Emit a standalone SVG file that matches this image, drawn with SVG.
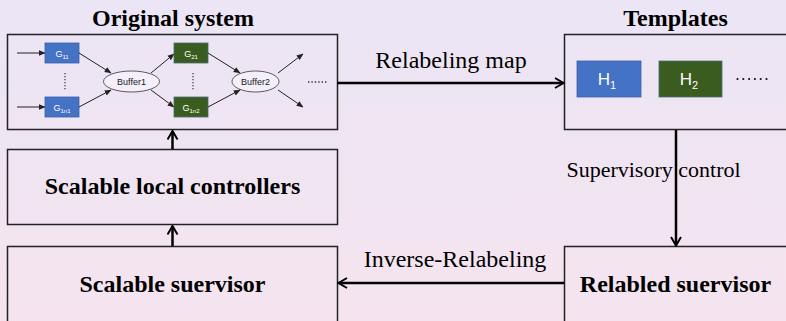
<svg xmlns="http://www.w3.org/2000/svg" width="786" height="321" viewBox="0 0 786 321">
<defs>
<linearGradient id="bg" x1="0" y1="0" x2="0" y2="1">
<stop offset="0" stop-color="#ebe5f5"/>
<stop offset="1" stop-color="#f5e4ef"/>
</linearGradient>
<marker id="chev" viewBox="0 0 12 12" refX="10.5" refY="6" markerWidth="12" markerHeight="12" markerUnits="userSpaceOnUse" orient="auto">
<path d="M2,1 L10.5,6 L2,11" fill="none" stroke="#000" stroke-width="2"/>
</marker>
<marker id="tri" viewBox="0 0 10 10" refX="9" refY="5" markerWidth="7" markerHeight="7" markerUnits="userSpaceOnUse" orient="auto">
<path d="M0,1 L10,5 L0,9 z" fill="#222"/>
</marker>
</defs>
<style>
.box{fill:none;stroke:#222;stroke-width:1.5}
.title{font-family:"Liberation Serif",serif;font-weight:bold;font-size:24px;fill:#000;text-anchor:middle}
.lbl{font-family:"Liberation Serif",serif;font-size:24px;fill:#000;text-anchor:middle}
.lbl2{font-family:"Liberation Serif",serif;font-size:22px;fill:#000;text-anchor:middle}
.conn{stroke:#000;stroke-width:2.5;fill:none;marker-end:url(#chev)}
.thin{stroke:#222;stroke-width:1;fill:none;marker-end:url(#tri)}
.blue{fill:#4472c4;stroke:#3a62ad;stroke-width:0.8}
.green{fill:#3b5c1f;stroke:#4d6a7a;stroke-width:0.8}
.sm{font-family:"Liberation Sans",Arial,sans-serif;font-size:9px;fill:#fff;text-anchor:middle}
.buf{fill:#f4effa;stroke:#333;stroke-width:0.8}
.btxt{font-family:"Liberation Sans",Arial,sans-serif;font-size:9px;fill:#222;text-anchor:middle}
.dot{stroke:#333;stroke-width:1.2;stroke-dasharray:1.2 1.8;fill:none}
.bigdot{stroke:#111;stroke-width:2.2;stroke-linecap:round;stroke-dasharray:0 5.8;fill:none}
.htxt{font-family:"Liberation Sans",Arial,sans-serif;font-size:17px;fill:#fff;text-anchor:middle}
</style>
<rect x="0" y="0" width="786" height="321" fill="url(#bg)"/>

<g id="original-system">
<text class="title" x="173" y="26">Original system</text>
<rect class="box" x="7.5" y="34.5" width="330" height="95"/>
<path class="thin" d="M17,53 L45,53"/>
<path class="thin" d="M17,107 L45,107"/>
<rect class="blue" x="45" y="43" width="34" height="20"/>
<text class="sm" x="62" y="56.5">G<tspan font-size="6" dy="2">11</tspan></text>
<rect class="blue" x="45" y="97" width="34" height="20"/>
<text class="sm" x="62" y="110.5">G<tspan font-size="6" dy="2">1n1</tspan></text>
<path class="dot" d="M65,73 L65,91"/>
<ellipse class="buf" cx="131.5" cy="81.5" rx="28" ry="10.5"/>
<text class="btxt" x="131.5" y="84.5">Buffer1</text>
<path class="thin" d="M79,53 L111,73"/>
<path class="thin" d="M79,107 L111,90"/>
<path class="thin" d="M151,73 L174,54"/>
<path class="thin" d="M151,90 L174,107"/>
<rect class="green" x="174" y="43" width="34" height="20"/>
<text class="sm" x="191" y="56.5">G<tspan font-size="6" dy="2">21</tspan></text>
<rect class="green" x="174" y="97" width="34" height="20"/>
<text class="sm" x="191" y="110.5">G<tspan font-size="6" dy="2">1n2</tspan></text>
<path class="dot" d="M193,73 L193,91"/>
<ellipse class="buf" cx="255.5" cy="81.5" rx="23.5" ry="10.5"/>
<text class="btxt" x="255.5" y="84.5">Buffer2</text>
<path class="thin" d="M208,53 L240,73"/>
<path class="thin" d="M208,107 L240,90"/>
<path class="thin" d="M278,73 L303,54"/>
<path class="thin" d="M278,90 L303,107"/>
<path class="dot" d="M308,82 L327,82" style="stroke-width:1.4;stroke-dasharray:1.4 2"/>
</g>

<g id="templates">
<text class="title" x="675.5" y="26">Templates</text>
<rect class="box" x="564.5" y="34.5" width="230" height="95"/>
<rect class="blue" x="577" y="61" width="64" height="36"/>
<text class="htxt" x="607" y="85">H<tspan font-size="11" dy="4">1</tspan></text>
<rect class="green" x="659" y="61" width="63" height="36"/>
<text class="htxt" x="689" y="85">H<tspan font-size="11" dy="4">2</tspan></text>
<path class="bigdot" d="M737.5,79 L767,79"/>
</g>

<g id="local-controllers">
<rect class="box" x="7.5" y="149.5" width="330" height="75"/>
<text class="title" x="172.5" y="194">Scalable local controllers</text>
</g>

<g id="scalable-supervisor">
<rect class="box" x="7.5" y="246.5" width="330" height="80"/>
<text class="title" x="172.5" y="292">Scalable suervisor</text>
</g>

<g id="relabled-supervisor">
<rect class="box" x="564.5" y="246.5" width="230" height="80"/>
<text class="title" x="675.5" y="292">Relabled suervisor</text>
</g>

<g id="connectors">
<path class="conn" d="M337.5,83 L563.5,83"/>
<text class="lbl" x="451" y="68">Relabeling map</text>
<path class="conn" d="M676,130 L676,245.5"/>
<text class="lbl2" x="653.5" y="177">Supervisory control</text>
<path class="conn" d="M564,283 L338.5,283"/>
<text class="lbl" x="455" y="267">Inverse-Relabeling</text>
<path class="conn" d="M172.5,149 L172.5,131"/>
<path class="conn" d="M172.5,246 L172.5,226"/>
</g>
</svg>
